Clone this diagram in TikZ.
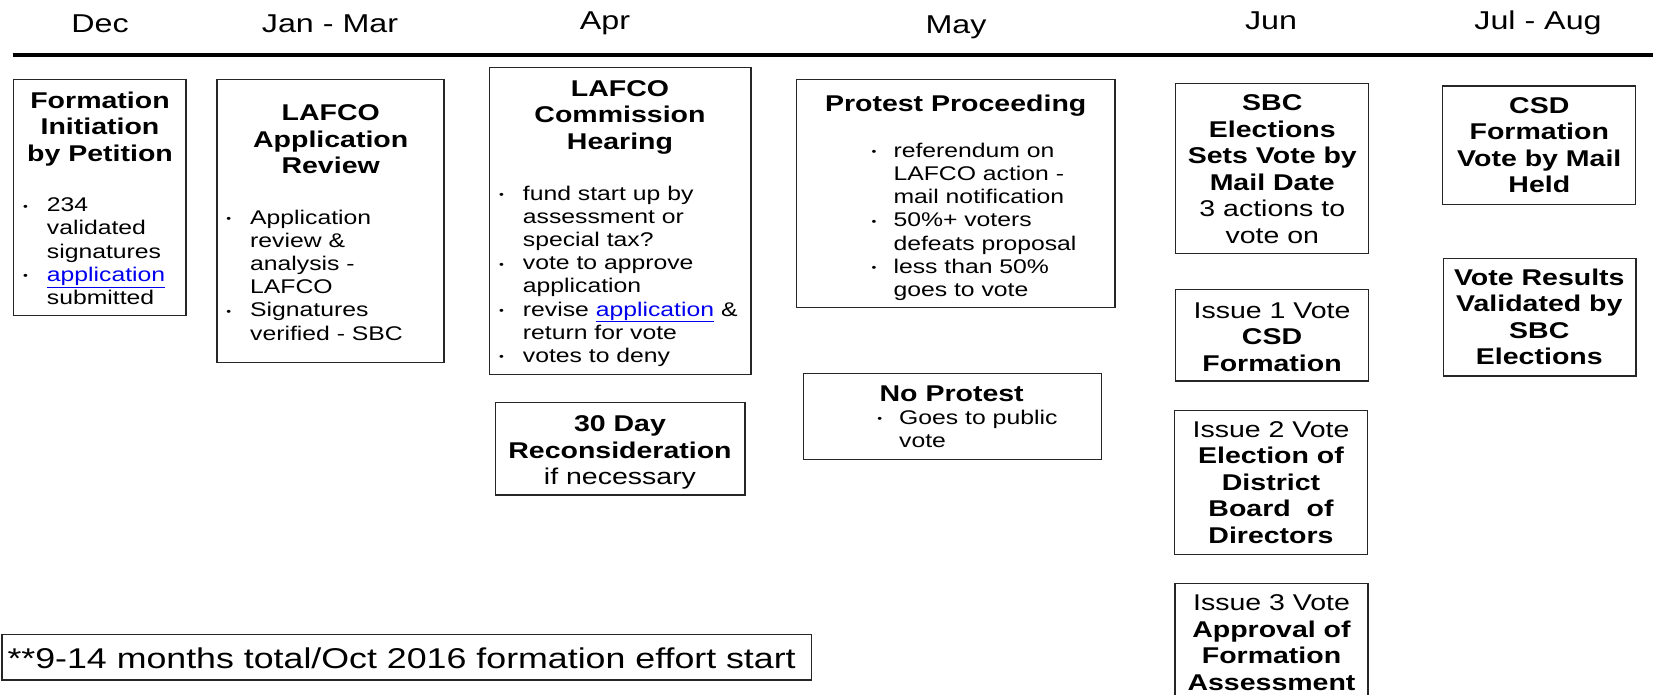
\documentclass[tikz,border=0pt]{standalone}
\usepackage{fontspec}
\setmainfont{Liberation Sans}[FakeStretch=1.25]
\usepackage{xcolor}
\definecolor{linkblue}{RGB}{0,0,238}
\newcommand\ctab[1]{\begin{tabular}[t]{@{}c@{}}#1\end{tabular}}
\newcommand\ltab[1]{\begin{tabular}[t]{@{}l@{}}#1\end{tabular}}
\newcommand\bul[1]{\llap{{\fontsize{11}{11}\selectfont\raisebox{1.5pt}{•}}\hspace{#1pt}}}
\newcommand\lnk[1]{\textcolor{linkblue}{\underline{#1}}}
\newcommand\bx[5]{\node[box, minimum width={#4-#2}, minimum height={#5-#3}] (#1) at ({(#2+#4)/2},{(#3+#5)/2}) {};}
\begin{document}
\begin{tikzpicture}[x=1pt, y=-1pt,
  box/.style={draw=black!85, line width=1.3pt, inner sep=0pt, outer sep=0pt},
  ttl/.style={inner sep=0pt, anchor=base, font=\fontsize{22.8}{26.5}\selectfont},
  blt/.style={inner sep=0pt, anchor=base west, font=\fontsize{19.8}{23.2}\selectfont},
  mon/.style={inner sep=0pt, anchor=base, font=\fontsize{25.8}{30}\selectfont},
  foot/.style={inner sep=0pt, anchor=base west, font=\fontsize{28.6}{33}\selectfont},
  rule/.style={line width=4pt, black}]
\useasboundingbox (0,0) rectangle (1653,694);

% month header
\node[mon] (mdec) at (100,32.7) {Dec};
\node[mon] (mjan) at (330,32.7) {Jan - Mar};
\node[mon] (mapr) at (605,29.5) {Apr};
\node[mon] (mmay) at (956,33) {May};
\node[mon] (mjun) at (1271,29.5) {Jun};
\node[mon] (mjul) at (1538,29.5) {Jul - Aug};
\coordinate (rl) at (12.7,55);
\coordinate (rr) at (1653,55);
\draw[rule] (rl) -- (rr);

% boxes
\bx{b1}{13.3}{79.3}{186}{315.7}
\bx{b2}{217}{79.3}{444}{362.7}
\bx{b3}{489.3}{67.3}{751}{374.3}
\bx{b4}{495.7}{402.7}{745}{495}
\bx{b5}{796.7}{79.3}{1115}{307.3}
\bx{b6}{803.3}{373.3}{1101.7}{459.3}
\bx{b7}{1175.7}{83.3}{1368.3}{253.3}
\bx{b8}{1175.7}{289.3}{1368.3}{381}
\bx{b9}{1174.3}{410.7}{1367.7}{554.3}
\bx{b10}{1175}{583.3}{1368}{720}
\bx{b11}{1442.7}{86}{1635.7}{204.3}
\bx{b12}{1443.3}{258.7}{1636}{376}
\bx{b13}{2}{634.3}{811.7}{680}

% box 1
\node[ttl] (t1) at (100,108.3) {\ctab{\textbf{Formation}\\\textbf{Initiation}\\\textbf{by Petition}}};
\node[blt] (l1) at (46.7,211.7) {\ltab{\bul{19}234\\validated\\signatures\\\bul{19}\lnk{application}\\submitted}};

% box 2
\node[ttl] (t2) at (330.7,120.7) {\ctab{\textbf{LAFCO}\\\textbf{Application}\\\textbf{Review}}};
\node[blt] (l2) at (250,224) {\ltab{\bul{19}Application\\review \&\\analysis -\\LAFCO\\\bul{19}Signatures\\verified - SBC}};

% box 3
\node[ttl] (t3) at (620,96) {\ctab{\textbf{LAFCO}\\\textbf{Commission}\\\textbf{Hearing}}};
\node[blt] (l3) at (522.7,200) {\ltab{\bul{19}fund start up by\\assessment or\\special tax?\\\bul{19}vote to approve\\application\\\bul{19}revise \lnk{application} \&\\return for vote\\\bul{19}votes to deny}};

% box 4
\node[ttl] (t4) at (620,431.7) {\ctab{\textbf{30 Day}\\\textbf{Reconsideration}\\if necessary}};

% box 5
\node[ttl] (t5) at (955.7,111.5) {\textbf{Protest Proceeding}};
\node[blt] (l5) at (893.3,157.3) {\ltab{\bul{17}referendum on\\LAFCO action -\\mail notification\\\bul{17}50\%+ voters\\defeats proposal\\\bul{17}less than 50\%\\goes to vote}};

% box 6
\node[ttl] (t6) at (951.7,401.7) {\textbf{No Protest}};
\node[blt] (l6) at (899,424) {\ltab{\bul{17}Goes to public\\vote}};

% box 7
\node[ttl] (t7) at (1272.3,110.7) {\ctab{\textbf{SBC}\\\textbf{Elections}\\\textbf{Sets Vote by}\\\textbf{Mail Date}\\3 actions to\\vote on}};

% box 8
\node[ttl] (t8) at (1272,318.3) {\ctab{Issue 1 Vote\\\textbf{CSD}\\\textbf{Formation}}};

% box 9
\node[ttl] (t9) at (1271,437.3) {\ctab{Issue 2 Vote\\\textbf{Election of}\\\textbf{District}\\\textbf{Board~~of}\\\textbf{Directors}}};

% box 10
\node[ttl] (t10) at (1271.5,610.7) {\ctab{Issue 3 Vote\\\textbf{Approval of}\\\textbf{Formation}\\\textbf{Assessment}}};

% box 11
\node[ttl] (t11) at (1539.3,113.3) {\ctab{\textbf{CSD}\\\textbf{Formation}\\\textbf{Vote by Mail}\\\textbf{Held}}};

% box 12
\node[ttl] (t12) at (1539.3,285) {\ctab{\textbf{Vote Results}\\\textbf{Validated by}\\\textbf{SBC}\\\textbf{Elections}}};

% footnote
\node[foot] (t13) at (7.3,668.3) {**9-14 months total/Oct 2016 formation effort start};
\end{tikzpicture}
\end{document}
